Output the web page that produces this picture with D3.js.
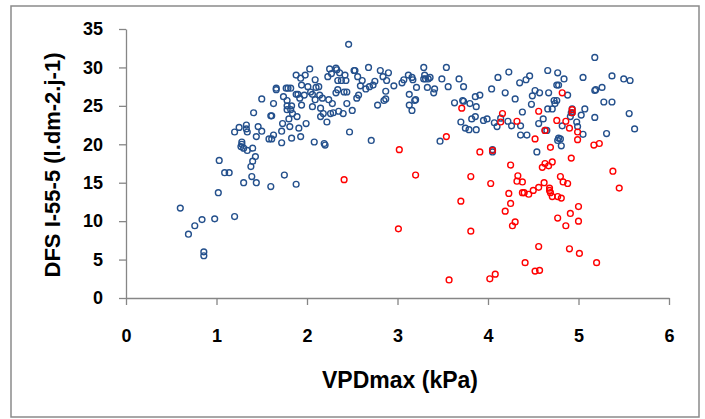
<!DOCTYPE html>
<html>
<head>
<meta charset="utf-8">
<script src="https://cdn.jsdelivr.net/npm/d3@7"></script>
<style>
  body { margin: 0; background: #fff; }
  text { font-family: "Liberation Sans", Arial, sans-serif; font-weight: bold; }
</style>
</head>
<body>
<div id="chart"></div>
<script>
// Blue series (VPDmax, DFS)
const blueX = [0.60,0.69,0.76,0.84,0.86,0.86,0.98,1.02,1.03,1.09,1.14,1.20,1.20,1.25,1.30,1.28,1.28,1.27,1.30,1.33,
  1.33,1.34,1.34,1.38,1.39,1.40,1.40,1.41,1.43,1.44,1.44,1.46,1.50,1.50,1.60,1.58,1.61,1.60,1.61,1.63,
  1.63,1.66,1.66,1.72,1.72,1.73,1.74,1.75,1.77,1.78,1.79,1.78,1.78,1.80,1.81,1.82,1.82,1.83,1.83,1.84,
  1.88,1.88,1.88,1.89,1.90,1.91,1.92,1.93,1.94,1.93,1.94,1.97,1.98,1.99,2.01,2.03,2.04,2.06,2.06,2.08,
  2.09,2.09,2.10,2.13,2.14,2.15,2.15,2.17,2.18,2.19,2.20,2.22,2.23,2.24,2.25,2.26,2.27,2.28,2.29,2.32,
  2.32,2.33,2.34,2.34,2.35,2.36,2.38,2.40,2.41,2.42,2.43,2.44,2.44,2.46,2.47,2.50,2.52,2.53,2.55,2.56,
  2.57,2.59,2.61,2.65,2.68,2.69,2.71,2.73,2.75,2.78,2.81,2.84,2.85,2.87,2.87,2.88,2.90,2.96,3.05,3.07,
  3.12,3.13,3.13,3.16,3.16,3.17,3.19,3.20,3.21,3.29,3.29,3.30,3.31,3.33,3.34,3.36,3.40,3.41,3.47,3.49,
  3.54,3.56,3.63,3.68,3.70,3.72,3.73,3.73,3.75,3.79,3.80,3.82,3.86,3.86,3.87,3.87,3.91,3.95,3.99,4.04,
  4.05,4.05,4.07,4.10,4.11,4.14,4.19,4.22,4.23,4.26,4.30,4.35,4.36,4.36,4.38,4.42,4.43,4.46,4.48,4.49,
  4.52,4.54,4.56,4.57,4.61,4.63,4.65,4.66,4.66,4.67,4.71,4.73,4.74,4.76,4.76,4.77,4.77,4.78,4.78,4.80,
  4.81,4.82,4.84,4.88,4.91,4.92,4.93,4.93,4.98,4.99,5.03,5.05,5.05,5.07,5.18,5.18,5.19,5.18,5.26,5.28,
  5.31,5.37,5.37,5.50,5.57,5.56,5.62];
const blueY = [11.7,8.3,9.4,10.2,6.0,5.5,10.3,13.7,17.9,16.3,16.3,10.6,21.6,22.2,15.0,20.3,20.0,19.7,19.5,22.5,
  22.0,21.6,19.2,17.1,15.8,17.8,19.5,24.1,18.4,21.0,15.0,22.3,21.7,25.9,14.5,20.7,20.7,23.7,23.7,21.2,
  25.3,27.3,27.1,20.2,21.7,22.7,26.2,16.0,27.3,25.7,27.3,25.0,24.5,23.3,22.3,27.3,24.5,25.0,20.8,24.0,
  29.0,26.5,14.8,23.6,26.5,22.1,26.0,21.0,27.7,28.6,25.1,26.4,29.0,22.7,27.5,29.8,26.8,26.5,24.9,20.3,
  28.4,25.8,27.4,27.5,26.4,23.6,24.7,26.0,24.0,20.1,19.9,22.9,28.8,25.8,29.8,24.0,29.2,25.3,24.1,26.7,
  29.9,29.7,28.3,27.1,24.3,29.3,28.3,24.0,26.8,29.0,28.3,26.8,25.3,33.0,21.6,24.4,29.6,29.6,26.0,28.8,
  26.4,27.6,28.3,27.2,30.0,27.5,20.5,27.7,28.2,25.1,29.6,28.8,25.7,26.9,25.9,28.3,29.3,27.6,28.0,28.4,
  29.0,25.1,26.5,28.7,24.4,28.4,25.7,25.8,27.4,30.0,28.5,29.0,28.5,27.4,28.5,28.7,26.7,27.2,20.4,28.5,
  30.0,27.5,25.4,28.5,22.9,25.7,25.6,27.5,22.1,21.9,25.3,23.3,26.2,23.6,24.9,21.9,26.4,23.1,23.3,27.2,
  19.3,19.0,22.8,22.3,28.7,23.4,26.7,23.0,29.4,22.4,25.9,28.0,21.2,22.4,24.2,28.4,21.2,28.9,25.2,26.3,
  27.0,19.0,22.7,26.7,23.3,21.8,21.8,29.6,24.6,26.7,24.6,25.7,25.3,25.7,27.7,29.3,20.5,27.7,20.8,20.7,
  19.8,22.4,28.5,26.4,23.6,24.1,24.6,24.1,22.9,22.3,23.8,21.3,28.7,24.6,23.5,27.0,27.1,31.3,27.4,25.5,
  21.4,25.5,28.9,28.5,28.3,24.0,22.0];

// Red series (VPDmax, DFS)
const redX = [2.41,3.02,3.01,3.20,3.54,3.57,3.71,3.70,3.81,3.81,3.91,4.02,4.03,4.05,4.08,4.14,4.16,4.19,4.25,4.23,
  4.25,4.27,4.30,4.32,4.33,4.32,4.38,4.38,4.40,4.41,4.45,4.50,4.52,4.52,4.56,4.56,4.57,4.56,4.60,4.62,
  4.63,4.63,4.67,4.68,4.68,4.69,4.69,4.71,4.71,4.76,4.77,4.77,4.80,4.81,4.82,4.83,4.86,4.86,4.88,4.90,
  4.90,4.91,4.92,4.93,4.93,4.99,4.99,5.00,5.00,5.01,5.17,5.23,5.20,5.38,5.45];
const redY = [15.4,19.3,9.0,16.0,21.0,2.35,24.7,12.6,15.8,8.7,19.0,2.5,14.9,19.2,3.1,22.9,24.0,11.3,17.3,13.6,
  12.3,9.4,9.9,23.0,15.9,15.2,15.1,13.7,13.7,4.6,13.5,14.0,3.5,20.7,24.3,6.7,3.6,14.4,17.0,15.0,
  17.5,21.8,17.2,14.3,14.0,13.7,19.6,13.2,17.7,23.1,10.4,13.2,15.8,13.0,26.7,15.1,9.4,23.0,14.9,22.1,
  6.4,11.0,18.2,24.5,24.1,20.6,21.6,11.9,10.0,5.8,19.9,20.1,4.6,16.5,14.3];

const xTicks = [0, 1, 2, 3, 4, 5, 6];
const yTicks = [0, 5, 10, 15, 20, 25, 30, 35];

const blueData = blueX.map((d, i) => ({x: d, y: blueY[i]}));
const redData = redX.map((d, i) => ({x: d, y: redY[i]}));

const W = 705, H = 419;
const margin = {top: 29, right: 36, bottom: 121, left: 126},
    width = W - margin.left - margin.right,
    height = H - margin.top - margin.bottom;

const root = d3.select("#chart")
  .append("svg")
    .attr("width", W)
    .attr("height", H);

// chart border
root.append("rect")
    .attr("x", 11).attr("y", 6)
    .attr("width", 688).attr("height", 411)
    .attr("fill", "#fff")
    .attr("stroke", "#8a8a8a")
    .attr("stroke-width", 1.5);

const svg = root.append("g")
    .attr("transform", `translate(${margin.left},${margin.top})`);

const x = d3.scaleLinear().domain([0, 6]).range([0, width]);
const y = d3.scaleLinear().domain([0, 35]).range([height, 0]);

// x axis
const xAxis = svg.append("g")
    .attr("transform", `translate(0,${height})`)
    .call(d3.axisBottom(x).tickValues(xTicks).tickFormat(d3.format("d"))
      .tickSize(7).tickSizeOuter(0).tickPadding(24));

// y axis
const yAxis = svg.append("g")
    .call(d3.axisLeft(y).tickValues(yTicks).tickFormat(d3.format("d"))
      .tickSize(7).tickSizeOuter(0).tickPadding(16));

[xAxis, yAxis].forEach(a => {
  a.select(".domain").attr("stroke", "#868686").attr("stroke-width", 1.3);
  a.selectAll(".tick line").attr("stroke", "#868686").attr("stroke-width", 1.3);
  a.selectAll(".tick text")
      .attr("fill", "#000")
      .style("font-size", "18px")
      .style("font-family", '"Liberation Sans", Arial, sans-serif')
      .style("font-weight", "bold");
});

// points
svg.selectAll(".blue")
  .data(blueData)
  .enter().append("circle")
    .attr("class", "blue")
    .attr("cx", d => x(d.x))
    .attr("cy", d => y(d.y))
    .attr("r", 2.9)
    .attr("fill", "none")
    .attr("stroke", "#24508c")
    .attr("stroke-width", 1.4);

svg.selectAll(".red")
  .data(redData)
  .enter().append("circle")
    .attr("class", "red")
    .attr("cx", d => x(d.x))
    .attr("cy", d => y(d.y))
    .attr("r", 2.9)
    .attr("fill", "none")
    .attr("stroke", "#ff0000")
    .attr("stroke-width", 1.4);

// axis titles
root.append("text")
    .attr("x", 400).attr("y", 388)
    .attr("text-anchor", "middle")
    .style("font-size", "23px")
    .text("VPDmax (kPa)");

root.append("text")
    .attr("transform", "translate(60,165) rotate(-90)")
    .attr("text-anchor", "middle")
    .style("font-size", "22px")
    .text("DFS I-55-5 (l.dm-2.j-1)");
</script>
</body>
</html>
